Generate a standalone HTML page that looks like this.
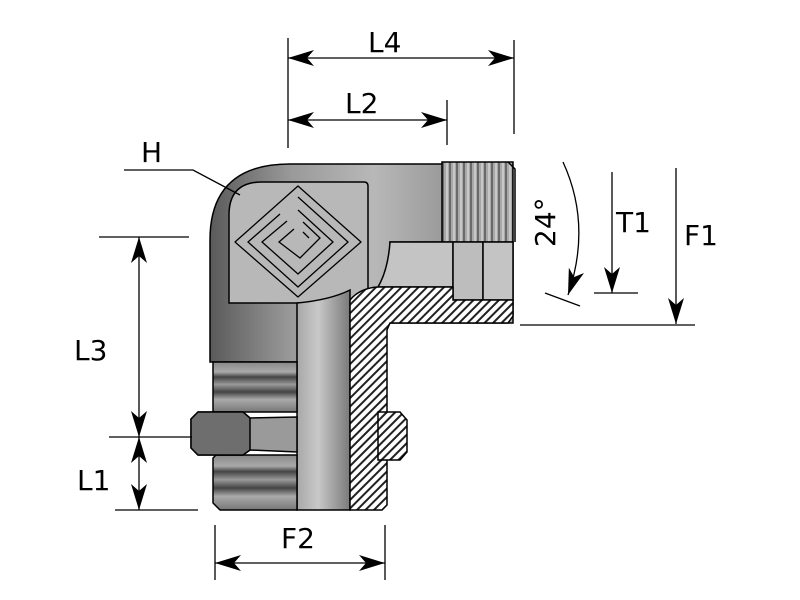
<!DOCTYPE html>
<html><head><meta charset="utf-8"><style>html,body{margin:0;padding:0;background:#fff}svg{display:block}</style></head>
<body>
<svg width="800" height="600" viewBox="0 0 800 600" xmlns="http://www.w3.org/2000/svg" font-family="DejaVu Sans, Liberation Sans, sans-serif">
<defs>
<linearGradient id="gv" x1="0" y1="0" x2="1" y2="0">
<stop offset="0" stop-color="#5a5a5a"/><stop offset="0.35" stop-color="#9a9a9a"/><stop offset="0.7" stop-color="#b8b8b8"/><stop offset="1" stop-color="#9a9a9a"/></linearGradient>
<linearGradient id="gb" x1="0" y1="0" x2="1" y2="0">
<stop offset="0" stop-color="#a8a8a8"/><stop offset="0.4" stop-color="#c8c8c8"/><stop offset="1" stop-color="#7a7a7a"/></linearGradient>
<linearGradient id="gh" x1="0" y1="0" x2="0" y2="1">
<stop offset="0" stop-color="#c4c4c4"/><stop offset="1" stop-color="#b0b0b0"/></linearGradient>
<linearGradient id="gt" x1="0" y1="0" x2="0" y2="1">
<stop offset="0" stop-color="#888"/><stop offset="0.2" stop-color="#aaa"/><stop offset="0.3" stop-color="#444"/><stop offset="0.45" stop-color="#999"/><stop offset="0.6" stop-color="#444"/><stop offset="0.75" stop-color="#aaa"/><stop offset="1" stop-color="#777"/></linearGradient>
<pattern id="ns" width="7" height="80" patternUnits="userSpaceOnUse" x="442">
<rect width="7" height="80" fill="#a8a8a8"/><rect x="0" width="2" height="80" fill="#6a6a6a"/><rect x="4" width="2" height="80" fill="#c8c8c8"/></pattern>
<pattern id="hat" width="6" height="6" patternUnits="userSpaceOnUse" patternTransform="rotate(45)">
<rect width="6" height="6" fill="#fff"/><rect width="2" height="6" fill="#222"/></pattern>
<marker id="ar" viewBox="0 0 26 16" refX="26" refY="8" markerWidth="26" markerHeight="16" markerUnits="userSpaceOnUse" orient="auto-start-reverse">
<path d="M0,0 L26,8 L0,16 L7,8 Z" fill="#000"/></marker>
</defs>

<path d="M210,362 L210,240 Q210,164 290,164 L444,164 L444,300 L350,300 L350,362 Z" fill="url(#gv)" stroke="#000" stroke-width="1.5"/>
<path d="M390,242 L513,242 L513,323 L390,323 Z" fill="url(#gh)" stroke="#000" stroke-width="1.5"/>
<rect x="442" y="162" width="71" height="80" fill="url(#ns)" stroke="#000" stroke-width="1.5"/>
<path d="M508,162 L515,169 L515,242" fill="none" stroke="#000" stroke-width="1.5"/>
<path d="M229,303 L229,215 Q229,182 262,182 L364,182 Q368,182 368,186 L368,303 Z" fill="#b8b8b8" stroke="#000" stroke-width="1.5"/>
<g fill="none" stroke="#000" stroke-width="1.3">
<path d="M298,186 L361,242 L298,297 L235,242 Z" stroke-linejoin="round"/>
<path d="M298,197 L348,242 L298,287 L248,242 L280,214"/>
<path d="M298,210 L333,242 L298,274 L262,242 L287,221"/>
<path d="M303,222 L320,238 L300,258 L279,242 L294,229"/>
<path d="M303,232 L309,238"/>
</g>
<path d="M297,510 L297,303 Q330,300 350,290 L350,510 Z" fill="url(#gb)" stroke="#000" stroke-width="1.5"/>
<path d="M390,242 L453,242 L453,287 L378,287 Q388,270 390,242 Z" fill="#c4c4c4" stroke="#000" stroke-width="1.5"/>
<rect x="453" y="242" width="30" height="58" fill="#bdbdbd" stroke="#000" stroke-width="1.5"/>
<rect x="483" y="242" width="30" height="58" fill="#c4c4c4" stroke="#000" stroke-width="1.5"/>
<path d="M350,510 L350,300 Q360,288 378,287 L453,287 L453,300 L513,300 L513,316 L508,323 L390,323 L387,330 L387,505 L382,510 Z" fill="url(#hat)" stroke="#000" stroke-width="1.5"/>
<path d="M378,412 L400,412 L407,420 L407,452 L400,460 L378,460 Z" fill="url(#hat)" stroke="#000" stroke-width="1.5"/>
<rect x="213" y="362" width="84" height="50" fill="url(#gt)" stroke="#000" stroke-width="1.5"/>
<path d="M216,455 L297,455 L297,510 L220,510 L213,503 L213,458 Z" fill="url(#gt)" stroke="#000" stroke-width="1.5"/>
<path d="M198,412 L243,412 L250,418 L297,417 L297,452 L250,450 L243,455 L198,455 L191,448 L191,419 Z" fill="#9a9a9a" stroke="#000" stroke-width="1.5"/>
<path d="M198,412 L243,412 L250,418 L250,450 L243,455 L198,455 L191,448 L191,419 Z" fill="#6e6e6e" stroke="#000" stroke-width="1.5"/>

<g stroke="#000" stroke-width="1.3" fill="none">
<line x1="288" y1="38" x2="288" y2="148"/>
<line x1="514" y1="40" x2="514" y2="134"/>
<line x1="447" y1="100" x2="447" y2="145"/>
<line x1="288" y1="58" x2="514" y2="58" marker-start="url(#ar)" marker-end="url(#ar)"/>
<line x1="288" y1="120" x2="447" y2="120" marker-start="url(#ar)" marker-end="url(#ar)"/>
<polyline points="124,170 193,170 240,195"/>
<line x1="99" y1="237" x2="189" y2="237"/>
<line x1="109" y1="437" x2="192" y2="437"/>
<line x1="115" y1="510" x2="198" y2="510"/>
<line x1="139" y1="237" x2="139" y2="437" marker-start="url(#ar)" marker-end="url(#ar)"/>
<line x1="139" y1="437" x2="139" y2="510" marker-start="url(#ar)" marker-end="url(#ar)"/>
<line x1="215" y1="525" x2="215" y2="580"/>
<line x1="385" y1="525" x2="385" y2="580"/>
<line x1="215" y1="563" x2="385" y2="563" marker-start="url(#ar)" marker-end="url(#ar)"/>
<path d="M563,162 Q592,225 568,295" marker-end="url(#ar)"/>
<line x1="545" y1="293" x2="580" y2="306"/>
<line x1="612" y1="172" x2="612" y2="293" marker-end="url(#ar)"/>
<line x1="594" y1="293" x2="638" y2="293"/>
<line x1="676" y1="168" x2="676" y2="324" marker-end="url(#ar)"/>
<line x1="520" y1="325" x2="695" y2="325"/>
</g>
<g font-size="28" fill="#000">
<text x="368" y="52">L4</text>
<text x="345" y="113">L2</text>
<text x="141" y="162">H</text>
<text x="74" y="360">L3</text>
<text x="77" y="490">L1</text>
<text x="281" y="548">F2</text>
<text x="616" y="232">T1</text>
<text x="684" y="245">F1</text>
<text transform="translate(555,247) rotate(-90)">24°</text>
</g>
</svg>
</body></html>
